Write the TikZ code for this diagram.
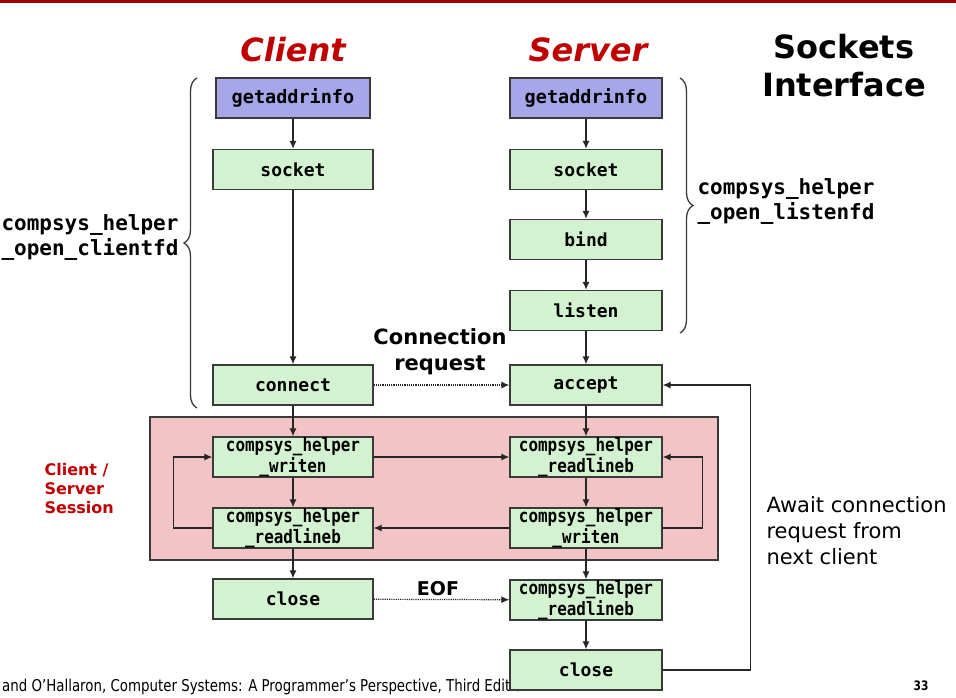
\documentclass[tikz,border=0pt]{standalone}
\usepackage{fontspec}
\setmainfont{DejaVu Sans}
\setmonofont{DejaVu Sans Mono}
\newfontfamily\narrowmono[FakeStretch=0.86]{DejaVu Sans Mono}
\newfontfamily\narrowsans[FakeStretch=0.82]{DejaVu Sans}
\usetikzlibrary{arrows.meta,decorations.pathreplacing}
\definecolor{slidered}{HTML}{A00000}
\definecolor{titlered}{HTML}{C00000}
\definecolor{lookupfill}{HTML}{A6A6E8}
\definecolor{callfill}{HTML}{D3F2D0}
\definecolor{sessionfill}{HTML}{F2C4C6}
\definecolor{edge}{HTML}{3A3A3A}

\begin{document}
\begin{tikzpicture}[x=1pt, y=-1pt]
  \tikzstyle{lookup} = [rectangle, inner sep=0pt, minimum width=154pt, minimum height=40pt, draw=edge, line width=1.3pt, fill=lookupfill, font=\ttfamily\bfseries\fontsize{18.5}{20}\selectfont]
  \tikzstyle{call} = [rectangle, inner sep=0pt, minimum width=160pt, minimum height=40pt, draw=edge, line width=1.3pt, fill=callfill, font=\ttfamily\bfseries\fontsize{18}{20}\selectfont]
  \tikzstyle{scall} = [call, minimum width=152pt]
  \tikzstyle{helper} = [call, align=center, font=\narrowmono\bfseries\fontsize{18.5}{19}\selectfont]
  \tikzstyle{shelper} = [helper, minimum width=152pt]
  \tikzstyle{session} = [rectangle, inner sep=0pt, minimum width=568pt, minimum height=143pt, draw=edge, line width=1.3pt, fill=sessionfill]
  \tikzstyle{side} = [font=\bfseries\fontsize{21}{26}\selectfont, align=center]
  \tikzstyle{brace} = [decorate, decoration={brace, amplitude=13pt}, draw=edge, line width=1.3pt]
  \tikzstyle{arrow} = [-{Latex[length=8pt,width=7pt]}, line width=1.2pt, draw=black!85]

  \useasboundingbox (0,0) rectangle (956,697);
  \fill[slidered] (0,0) rectangle (956,3);

  % titles
  \node (ctitle) [font=\bfseries\itshape\fontsize{32}{38}\selectfont, text=titlered] at (293,50) {Client};
  \node (stitle) [font=\bfseries\itshape\fontsize{32}{38}\selectfont, text=titlered] at (588,50) {Server};
  \node (heading) [font=\bfseries\fontsize{32}{38}\selectfont, align=center] at (844,66) {Sockets\\Interface};

  % session background
  \node (session) [session] at (434,488.5) {};
  \node (slabel) [anchor=west, align=left, text=titlered, font=\bfseries\fontsize{16}{19}\selectfont] at (41,489) {Client /\\Server\\Session};

  % footer
  \node (credit) [anchor=base west, inner sep=0pt, font=\narrowsans\fontsize{16.3}{18}\selectfont] at (2,691) {and O’Hallaron, Computer Systems: A Programmer’s Perspective, Third Edition};
  \node (pageno) [font=\narrowsans\bfseries\fontsize{13}{15}\selectfont] at (921,686) {33};

  % client side
  \node (cga) [lookup] at (293,98) {getaddrinfo};
  \node (csock) [call] at (293,169.5) {socket};
  \node (cconn) [call] at (293,385) {connect};
  \node (cwrite) [helper] at (293,457) {compsys\_helper\\\_writen};
  \node (cread) [helper] at (293,528) {compsys\_helper\\\_readlineb};
  \node (cclose) [call] at (293,599) {close};

  % server side
  \node (sga) [lookup, minimum width=152pt] at (586,98) {getaddrinfo};
  \node (ssock) [scall] at (586,169.5) {socket};
  \node (sbind) [scall] at (586,239.5) {bind};
  \node (slisten) [scall] at (586,310.5) {listen};
  \node (saccept) [scall] at (586,385) {accept};
  \node (sread) [shelper] at (586,457) {compsys\_helper\\\_readlineb};
  \node (swrite) [shelper] at (586,528) {compsys\_helper\\\_writen};
  \node (sread2) [shelper] at (586,600) {compsys\_helper\\\_readlineb};
  \node (sclose) [scall] at (586,670) {close};

  % braces
  \draw[brace] (197,408) -- (197,78);
  \draw[brace] (680,78) -- (680,333);
  \node (copen) [anchor=west, align=left, font=\ttfamily\bfseries\fontsize{21}{25}\selectfont] at (-2,237.5) {compsys\_helper\\\_open\_clientfd};
  \node (sopen) [anchor=west, align=left, font=\ttfamily\bfseries\fontsize{21}{25}\selectfont] at (694,201.5) {compsys\_helper\\\_open\_listenfd};

  % labels
  \node (request) [side] at (440,352) {Connection\\request};
  \node (eof) [font=\bfseries\fontsize{19}{22}\selectfont] at (438,589) {EOF};
  \node (await) [anchor=west, align=left, font=\fontsize{21}{26}\selectfont] at (763,531) {Await connection\\request from\\next client};

  % client flow
  \draw [arrow] (cga) -- (csock);
  \draw [arrow] (csock) -- (cconn);
  \draw [arrow] (cconn) -- (cwrite);
  \draw [arrow] (cwrite) -- (cread);
  \draw [arrow] (cread) -- (cclose);
  \draw [arrow] (cread.west) -- ++(-39,0) |- (cwrite.west);

  % server flow
  \draw [arrow] (sga) -- (ssock);
  \draw [arrow] (ssock) -- (sbind);
  \draw [arrow] (sbind) -- (slisten);
  \draw [arrow] (slisten) -- (saccept);
  \draw [arrow] (saccept) -- (sread);
  \draw [arrow] (sread) -- (swrite);
  \draw [arrow] (swrite) -- (sread2);
  \draw [arrow] (sread2) -- (sclose);
  \draw [arrow] (swrite.east) -- ++(40,0) |- (sread.east);
  \draw [arrow] (sclose.east) -- ++(88,0) |- (saccept.east);

  % between the two
  \draw [arrow, densely dotted] (cconn) -- (saccept);
  \draw [arrow] (cwrite) -- (sread);
  \draw [arrow] (swrite) -- (cread);
  \draw [arrow, densely dotted] (cclose) -- (sread2);
\end{tikzpicture}
\end{document}
